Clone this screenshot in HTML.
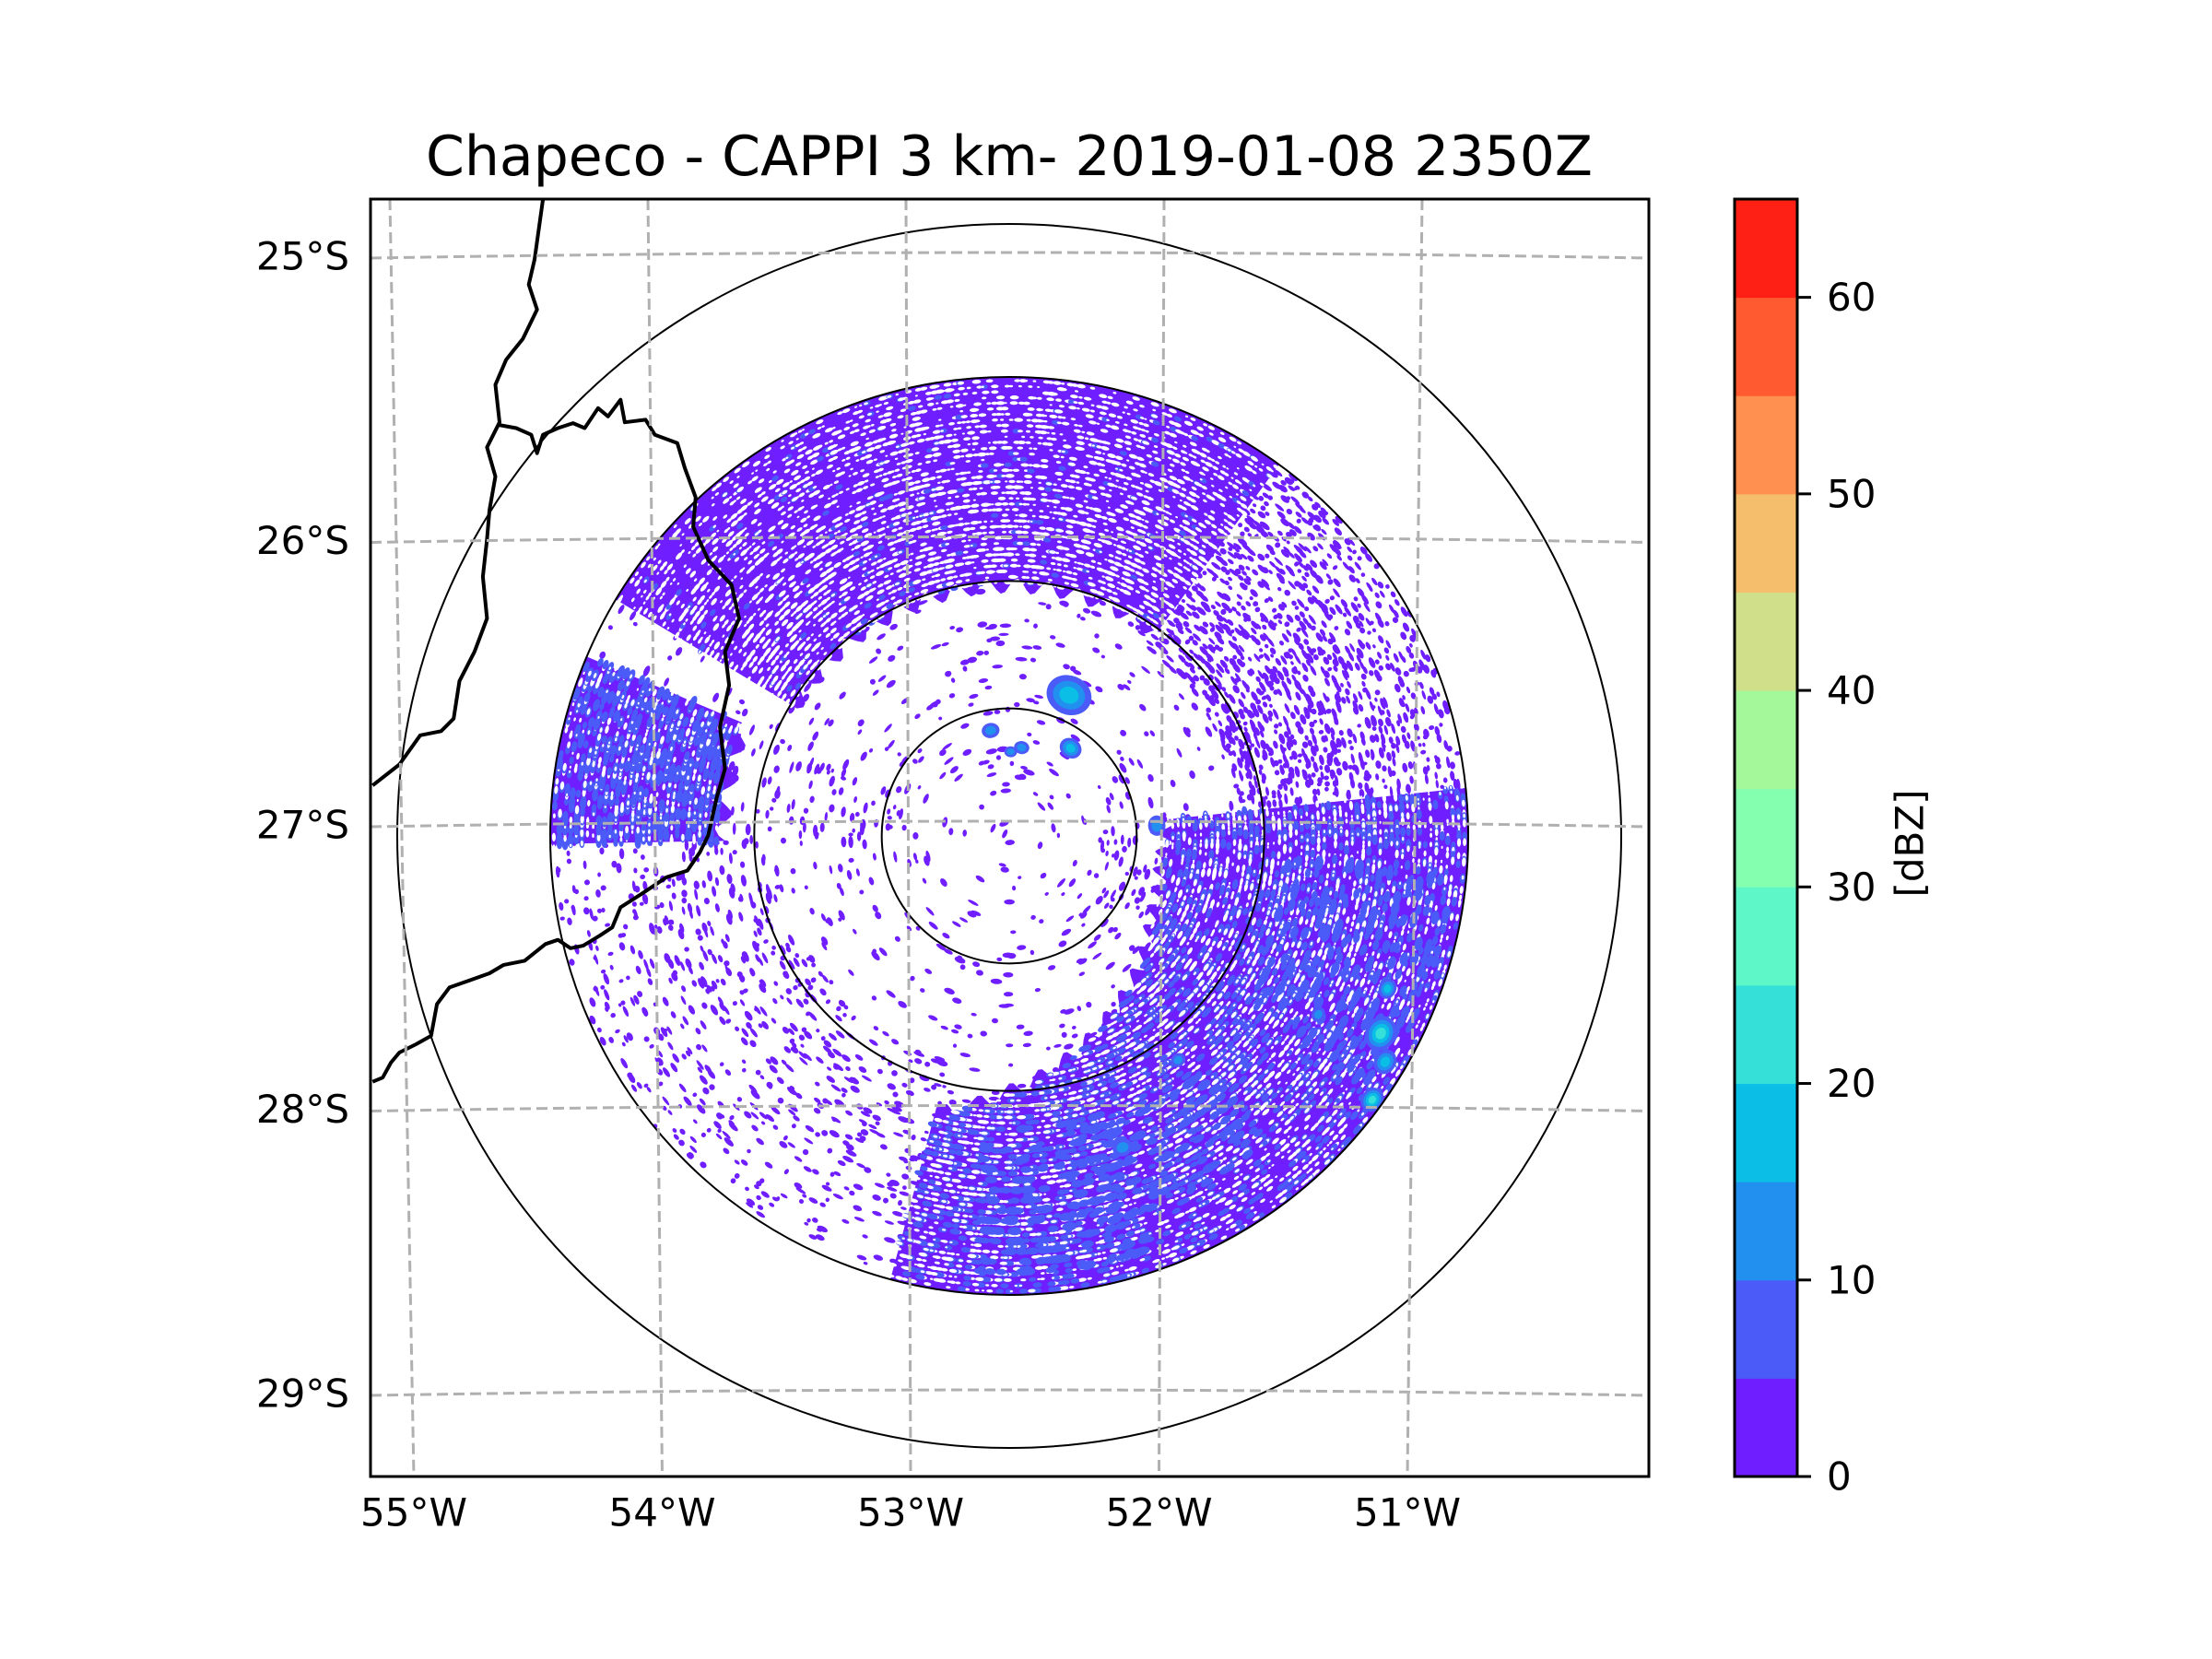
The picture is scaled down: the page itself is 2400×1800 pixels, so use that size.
<!DOCTYPE html>
<html><head><meta charset="utf-8">
<style>
html,body{margin:0;padding:0;background:#fff;}
svg{display:block;}
text{font-family:"DejaVu Sans","Liberation Sans",sans-serif;fill:#000;}
</style></head>
<body>
<svg id="fig" width="2400" height="1800" viewBox="0 0 2400 1800" xmlns="http://www.w3.org/2000/svg">
  <rect x="0" y="0" width="2400" height="1800" fill="#fff"/>
  <text x="1095" y="190" font-size="60" text-anchor="middle">Chapeco - CAPPI 3 km- 2019-01-08 2350Z</text>
  <defs>
    <clipPath id="axclip"><rect x="402" y="216" width="1387" height="1386"/></clipPath>
    <clipPath id="discclip"><circle cx="1095" cy="907" r="498"/></clipPath>
  </defs>
  <g id="data" clip-path="url(#discclip)"></g>
  <g id="overlay" clip-path="url(#axclip)"></g>
  <rect x="402" y="216" width="1387" height="1386" fill="none" stroke="#000" stroke-width="3"/>
  <g id="labels"></g>
  <g id="cbar"></g>
  <text x="2072" y="915" font-size="42" text-anchor="middle" dominant-baseline="central" transform="rotate(-90 2072 915)">[dBZ]</text>
</svg>
<script>
// ---- data arrays ----
const latValues = [25, 26, 27, 28, 29];
const latLabels = ['25°S', '26°S', '27°S', '28°S', '29°S'];
const lonValues = [55, 54, 53, 52, 51];
const lonLabels = ['55°W', '54°W', '53°W', '52°W', '51°W'];
const ringKm = [50, 100, 180, 240];
const cbarLevels = [0, 5, 10, 15, 20, 25, 30, 35, 40, 45, 50, 55, 60, 65];
const cbarColors = ['#6f1eff','#4b5bf8','#2190ee','#0abee6','#35e0d8','#5ef8c8','#84ffb0','#a4f89a','#d0e08a','#f4be6c','#ff9050','#ff5a30','#ff2015'];
const cbarTicks = [0, 10, 20, 30, 40, 50, 60];
// dense echo regions
const denseAz0 = [-59, -91, 84];
const denseAz1 = [36, -67, 195];
const denseRin = [98, 112, 0];
const denseHoles = [0.45, 0.35, 0.4];
const denseBlue = [0.04, 0.4, 0.22];
// inner edge of SE region: az -> km
const seAz = [84, 100, 120, 150, 180, 195];
const seRin = [62, 60, 64, 80, 100, 112];
// speckle regions
const speckAz0 = [-180, 36, 195, -91, 84];
const speckAz1 = [180, 84, 270, -67, 140];
const speckR0 = [0, 90, 90, 40, 30];
const speckR1 = [180, 180, 180, 110, 62];
const speckDen = [0.06, 0.55, 0.2, 0.08, 0.15];
// convective cells
const cellAz = [23, -10, 8, 35, 1, 86, 118, 121, 126, 112, 160, 143, 120];
const cellR = [60, 42, 35, 42, 33, 58, 165, 172, 176, 160, 130, 110, 140];
const cellSize = [9, 3.5, 3, 4.5, 2.5, 4, 7, 5, 5, 4, 4, 3, 3];
const cellLevel = [3, 2, 2, 3, 2, 2, 4, 3, 4, 3, 2, 2, 2];
// blue patch zones
const bAz0 = [95, 140, 160];
const bAz1 = [125, 165, 185];
const bR0 = [110, 120, 115];
const bR1 = [175, 160, 175];

// ---- geometry ----
const NS = 'http://www.w3.org/2000/svg';
const CX = 1095, CY = 907, PXKM = 498 / 180;
function latY(lat, t) { const base = 897 + (lat - 27) * 308.5; return base - 6 * 4 * t * (1 - t); }
function lonXTop(lon) { return 983 - (lon - 53) * 280; }
function lonXBot(lon) { return 988 - (lon - 53) * 269.5; }
function pol(az, km) { const a = az * Math.PI / 180, r = km * PXKM; return [CX + r * Math.sin(a), CY - r * Math.cos(a)]; }
function hsh(i, j, k) { const v = Math.sin(i * 12.9898 + j * 78.233 + k * 37.719) * 43758.5453; return v - Math.floor(v); }
function interpRin(az) {
  for (let i = 0; i < seAz.length - 1; i++) if (az >= seAz[i] && az <= seAz[i + 1]) { const t = (az - seAz[i]) / (seAz[i + 1] - seAz[i]); return seRin[i] + t * (seRin[i + 1] - seRin[i]); }
  return az < seAz[0] ? seRin[0] : seRin[seRin.length - 1];
}
const dataG = document.getElementById('data');
function ell(g, az, km, rx, ry, color) {
  const p = pol(az, km);
  const e = document.createElementNS(NS, 'ellipse');
  
  
  e.setAttribute('cx', p[0].toFixed(1)); e.setAttribute('cy', p[1].toFixed(1));
  e.setAttribute('rx', rx.toFixed(1)); e.setAttribute('ry', ry.toFixed(1));
  e.setAttribute('fill', color);
  e.setAttribute('transform', 'rotate(' + az.toFixed(1) + ' ' + p[0].toFixed(1) + ' ' + p[1].toFixed(1) + ')');
  g.appendChild(e);
}
// sparse speckles
for (let s = 0; s < speckAz0.length; s++) {
  for (let km = speckR0[s] + 2; km < speckR1[s]; km += 2.6) {
    const step = Math.max(1.0, 4 / Math.max(km, 8) * 57.3 / PXKM);
    for (let az = speckAz0[s]; az < speckAz1[s]; az += step) {
      const h = hsh(Math.round(az * 10), Math.round(km * 10), s);
      if (h < speckDen[s]) {
        const j1 = hsh(az, km, s + 5), j2 = hsh(km, az, s + 9);
        ell(dataG, az + (j1 - 0.5) * step, km + (j2 - 0.5) * 2, 2 + j1 * 4.5, 1.6 + j2 * 1.6, '#6f1eff');
      }
    }
  }
}
// dense regions
for (let d = 0; d < denseAz0.length; d++) {
  const a0 = denseAz0[d], a1 = denseAz1[d];
  const rin = az => (denseRin[d] > 0 ? denseRin[d] : interpRin(az));
  let pts = [];
  for (let az = a0; az <= a1; az += 1) pts.push(pol(az, 185));
  for (let az = a1; az >= a0; az -= 1) pts.push(pol(az, rin(az) + 3 * Math.sin(az * 0.9)));
  const path = document.createElementNS(NS, 'path');
  
  
  path.setAttribute('d', 'M' + pts.map(p => p[0].toFixed(1) + ',' + p[1].toFixed(1)).join('L') + 'Z');
  path.setAttribute('fill', '#6f1eff');
  dataG.appendChild(path);
  for (let km = 40; km < 182; km += 2.2) {
    const step = Math.max(0.6, 3.6 / km * 57.3 / PXKM);
    for (let az = a0; az < a1; az += step) {
      if (km < rin(az) + 1) continue;
      const hb = hsh(Math.round(az * 10), Math.round(km * 10), d + 20);
      if (hb < denseBlue[d]) ell(dataG, az, km, 4 + hb * 8, 2.5 + hb * 3, '#4b5bf8');
      const hw = hsh(Math.round(az * 10), Math.round(km * 10), d + 40);
      if (hw < denseHoles[d]) {
        const j = hsh(km, az, d + 60);
        ell(dataG, az + (j - 0.5) * step, km, 1.5 + j * 3.5, 1 + j * 1.2, '#ffffff');
      }
    }
  }
}
// blue patches in SE
for (let b = 0; b < bAz0.length; b++) {
  for (let km = bR0[b]; km < bR1[b]; km += 4) {
    const step = 6 / km * 57.3 / PXKM;
    for (let az = bAz0[b]; az < bAz1[b]; az += step) {
      const h = hsh(Math.round(az * 10), Math.round(km * 10), b + 80);
      if (h < 0.35) ell(dataG, az, km, 5 + h * 9, 3 + h * 5, '#4b5bf8');
    }
  }
}
// convective cells
for (let c = 0; c < cellAz.length; c++) {
  for (let lv = 0; lv < cellLevel[c]; lv++) {
    const sz = cellSize[c] * (1 - lv / (cellLevel[c] + 0.5));
    ell(dataG, cellAz[c], cellR[c], sz * PXKM, sz * PXKM * 0.85, cbarColors[lv + 1]);
  }
}
// ---- overlay: rings, borders, gridlines ----
const ov = document.getElementById('overlay');
for (let i = 0; i < ringKm.length; i++) {
  const c = document.createElementNS(NS, 'circle');
  
  
  c.setAttribute('cx', CX); c.setAttribute('cy', CY); c.setAttribute('r', ringKm[i] * PXKM);
  c.setAttribute('fill', 'none'); c.setAttribute('stroke', '#000'); c.setAttribute('stroke-width', '2');
  ov.appendChild(c);
}
const border1 = [[222,18],[212,90],[205,120],[215,150],[198,185],[178,210],[165,240],[170,285],[155,315],[165,350],[158,390],[155,425],[150,470],[155,520],[140,560],[122,595],[115,640],[100,655],[75,660],[50,695],[18,720]];
const border2 = [[168,288],[190,292],[208,300],[215,322],[222,300],[240,292],[258,286],[272,292],[288,268],[300,278],[315,258],[320,285],[345,282],[356,300],[383,310],[392,340],[405,375],[402,410],[420,450],[448,480],[457,520],[440,560],[445,600],[434,650],[440,700],[430,735],[420,780],[410,800],[395,822],[370,830],[340,850],[315,866],[305,890],[290,900],[270,912],[255,915],[240,905],[225,910],[200,930],[175,935],[158,945],[130,955],[110,962],[95,982],[88,1020],[70,1030],[50,1040],[40,1052],[30,1070],[18,1075]];
[[border1, 'border-line-1'], [border2, 'border-line-2']].forEach(function (b) {
  const p = document.createElementNS(NS, 'polyline');
  
  
  p.setAttribute('points', b[0].map(q => (388 + q[0] / 1.104).toFixed(1) + ',' + (200 + q[1] / 1.104).toFixed(1)).join(' '));
  p.setAttribute('fill', 'none'); p.setAttribute('stroke', '#000'); p.setAttribute('stroke-width', '4'); p.setAttribute('stroke-linejoin', 'round');
  ov.appendChild(p);
});
const lab = document.getElementById('labels');
for (let i = 0; i < latValues.length; i++) {
  const l = document.createElementNS(NS, 'path');
  
  
  l.setAttribute('d', 'M402,' + latY(latValues[i], 0) + ' Q1095,' + (latY(latValues[i], 0.5) * 2 - latY(latValues[i], 0)) + ' 1789,' + latY(latValues[i], 1));
  l.setAttribute('fill', 'none'); l.setAttribute('stroke', '#b0b0b0'); l.setAttribute('stroke-width', '3'); l.setAttribute('stroke-dasharray', '12 6');
  ov.appendChild(l);
  const t = document.createElementNS(NS, 'text');
  
  
  t.setAttribute('x', 379); t.setAttribute('y', latY(latValues[i], 0) - 2);
  t.setAttribute('font-size', '42'); t.setAttribute('text-anchor', 'end'); t.setAttribute('dominant-baseline', 'central');
  t.textContent = latLabels[i];
  lab.appendChild(t);
}
for (let i = 0; i < lonValues.length; i++) {
  const l = document.createElementNS(NS, 'line');
  
  
  l.setAttribute('x1', lonXTop(lonValues[i])); l.setAttribute('y1', 216);
  l.setAttribute('x2', lonXBot(lonValues[i])); l.setAttribute('y2', 1602);
  l.setAttribute('stroke', '#b0b0b0'); l.setAttribute('stroke-width', '3'); l.setAttribute('stroke-dasharray', '12 6');
  ov.appendChild(l);
  const t = document.createElementNS(NS, 'text');
  
  
  t.setAttribute('x', lonXBot(lonValues[i])); t.setAttribute('y', 1641);
  t.setAttribute('font-size', '42'); t.setAttribute('text-anchor', 'middle'); t.setAttribute('dominant-baseline', 'central');
  t.textContent = lonLabels[i];
  lab.appendChild(t);
}
// ---- colorbar ----
const cb = document.getElementById('cbar');
const CB_TOP = 216, CB_BOT = 1602, CB_X = 1882, CB_W = 68;
function cbY(v) { return CB_BOT - (v - cbarLevels[0]) / (cbarLevels[cbarLevels.length - 1] - cbarLevels[0]) * (CB_BOT - CB_TOP); }
for (let i = 0; i < cbarColors.length; i++) {
  const r = document.createElementNS(NS, 'rect');
  
  
  r.setAttribute('x', CB_X); r.setAttribute('y', cbY(cbarLevels[i + 1]));
  r.setAttribute('width', CB_W); r.setAttribute('height', cbY(cbarLevels[i]) - cbY(cbarLevels[i + 1]) + 0.5);
  r.setAttribute('fill', cbarColors[i]);
  cb.appendChild(r);
}
const fr = document.createElementNS(NS, 'rect');


fr.setAttribute('x', CB_X); fr.setAttribute('y', CB_TOP); fr.setAttribute('width', CB_W); fr.setAttribute('height', CB_BOT - CB_TOP);
fr.setAttribute('fill', 'none'); fr.setAttribute('stroke', '#000'); fr.setAttribute('stroke-width', '3');
cb.appendChild(fr);
for (let i = 0; i < cbarTicks.length; i++) {
  const y = cbY(cbarTicks[i]);
  const tk = document.createElementNS(NS, 'line');
  
  
  tk.setAttribute('x1', CB_X + CB_W); tk.setAttribute('x2', CB_X + CB_W + 15); tk.setAttribute('y1', y); tk.setAttribute('y2', y);
  tk.setAttribute('stroke', '#000'); tk.setAttribute('stroke-width', '3');
  cb.appendChild(tk);
  const t = document.createElementNS(NS, 'text');
  
  
  t.setAttribute('x', 1982); t.setAttribute('y', y);
  t.setAttribute('font-size', '42'); t.setAttribute('dominant-baseline', 'central');
  t.textContent = String(cbarTicks[i]);
  cb.appendChild(t);
}
</script>
</body></html>
